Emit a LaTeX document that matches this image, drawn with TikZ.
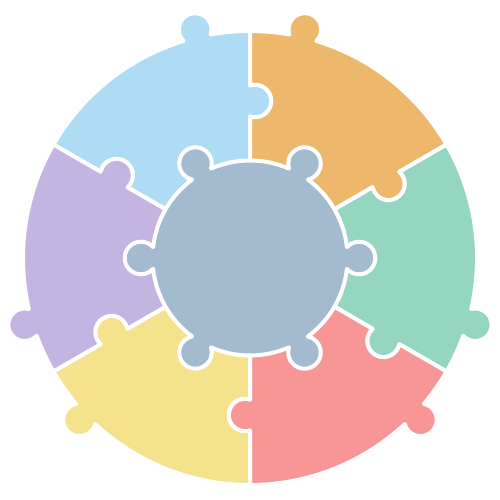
\documentclass[tikz,border=0pt]{standalone}
\definecolor{cblue}{HTML}{AEDCF5}
\definecolor{corange}{HTML}{EEB86C}
\definecolor{cgreen}{HTML}{94D6C0}
\definecolor{cred}{HTML}{F79694}
\definecolor{cyellow}{HTML}{F4E28C}
\definecolor{cpurple}{HTML}{C4B4E2}
\definecolor{ccenter}{HTML}{A4BACE}
\tikzset{
  piece/.style={draw=white, line width=4pt, line join=round},
}
% #1 colour, #2 low edge angle, #3 high edge angle, #4 outer knob angle
\newcommand\puzzlepiece[4]{%
  \filldraw[piece, fill=#1] (0,0) -- (#2:141.49)
    arc[start angle=#2+162.14, end angle=#2+377.86, radius=16.3]
    -- (#2:227)
    arc[start angle=#2, end angle=#4-3.523, radius=227]
    arc[start angle=#4-121.15, end angle=#4+121.15, radius=16.3]
    arc[start angle=#4+3.523, end angle=#3, radius=227]
    -- (#3:172.51)
    arc[start angle=#3+377.86, end angle=#3+162.14, radius=16.3]
    -- cycle;}
\begin{document}
\begin{tikzpicture}[x=1pt,y=1pt]
\useasboundingbox (-250,-242) rectangle (250,258);
\puzzlepiece{cblue}{90}{150}{103.5}
\puzzlepiece{corange}{30}{90}{76.5}
\puzzlepiece{cgreen}{-30}{30}{-16.5}
\puzzlepiece{cred}{-90}{-30}{-43.5}
\puzzlepiece{cyellow}{210}{270}{223.5}
\puzzlepiece{cpurple}{150}{210}{196.5}
\filldraw[piece, fill=ccenter] (6.42:97.5)
  \foreach \m in {0,60,...,300}{
    arc[start angle=\m+6.42, end angle=\m+60-6.42, radius=97.5]
    arc[start angle=\m+60-138.01, end angle=\m+60+138.01, radius=16.3]
  } -- cycle;
\end{tikzpicture}
\end{document}
